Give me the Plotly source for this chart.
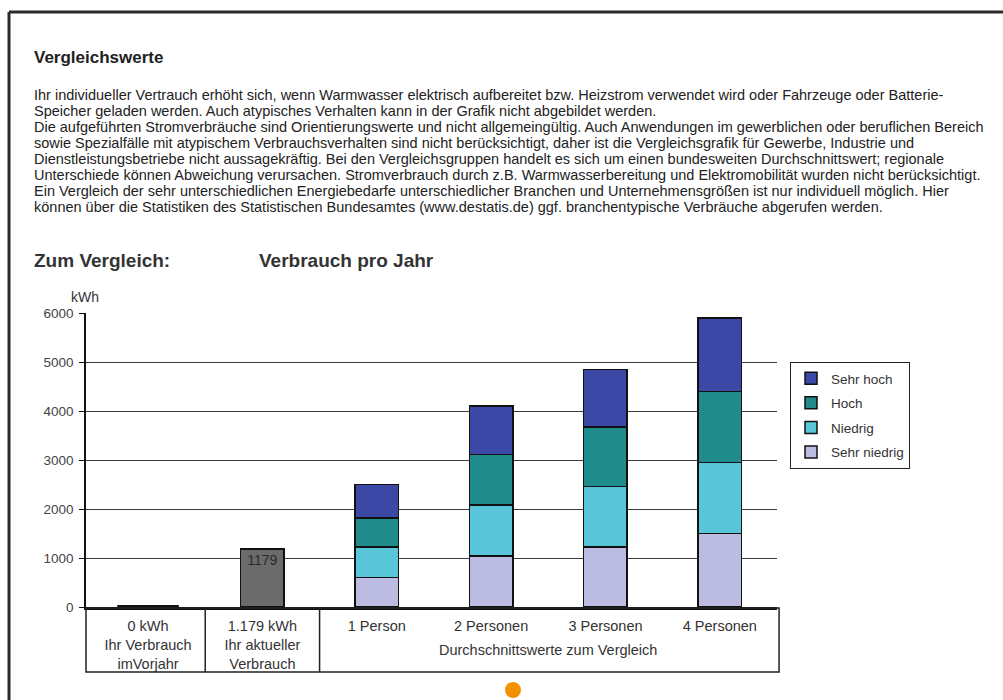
import plotly.graph_objects as go

# ---------------- data ----------------
categories = ["0 kWh<br>Ihr Verbrauch<br>imVorjahr",
              "1.179 kWh<br>Ihr aktueller<br>Verbrauch",
              "1 Person", "2 Personen", "3 Personen", "4 Personen"]
own_categories = categories[:2]
own_values = [0, 1179]
own_labels = ["", "1179"]
group_categories = categories[2:]
sehr_niedrig = [600, 1040, 1220, 1500]
niedrig = [620, 1040, 1240, 1450]
hoch = [600, 1030, 1210, 1450]
sehr_hoch = [680, 990, 1180, 1500]
y_ticks = [0, 1000, 2000, 3000, 4000, 5000, 6000]

series = [("Sehr niedrig", sehr_niedrig, "#bcbce2", 4),
          ("Niedrig", niedrig, "#58c6d8", 3),
          ("Hoch", hoch, "#1f8b8b", 2),
          ("Sehr hoch", sehr_hoch, "#3b48a6", 1)]

header = "Vergleichswerte"
paragraph = [
    "Ihr individueller Vertrauch erhöht sich, wenn Warmwasser elektrisch aufbereitet bzw. Heizstrom verwendet wird oder Fahrzeuge oder Batterie-",
    "Speicher geladen werden. Auch atypisches Verhalten kann in der Grafik nicht abgebildet werden.",
    "Die aufgeführten Stromverbräuche sind Orientierungswerte und nicht allgemeingültig. Auch Anwendungen im gewerblichen oder beruflichen Bereich",
    "sowie Spezialfälle mit atypischem Verbrauchsverhalten sind nicht berücksichtigt, daher ist die Vergleichsgrafik für Gewerbe, Industrie und",
    "Dienstleistungsbetriebe nicht aussagekräftig. Bei den Vergleichsgruppen handelt es sich um einen bundesweiten Durchschnittswert; regionale",
    "Unterschiede können Abweichung verursachen. Stromverbrauch durch z.B. Warmwasserbereitung und Elektromobilität wurden nicht berücksichtigt.",
    "Ein Vergleich der sehr unterschiedlichen Energiebedarfe unterschiedlicher Branchen und Unternehmensgrößen ist nur individuell möglich. Hier",
    "können über die Statistiken des Statistischen Bundesamtes (www.destatis.de) ggf. branchentypische Verbräuche abgerufen werden.",
]

W, H = 1003, 700
FONT = "Liberation Sans, Arial, sans-serif"

def px(xp):
    return xp / W

def py(yp):
    return 1 - yp / H

fig = go.Figure()

fig.add_trace(go.Bar(x=own_categories, y=own_values, text=own_labels,
                     textposition="inside", insidetextanchor="end",
                     textfont=dict(size=14, color="#2a2a2a", family=FONT),
                     marker=dict(color="#6b6b6b", line=dict(color="#111", width=1.5)),
                     width=0.38, showlegend=False, hoverinfo="skip"))

# zero-valued bar shown as a flat outline
zero_x = [c for c, v in zip(own_categories, own_values) if v == 0]
zero_y = [v for v in own_values if v == 0]
fig.add_trace(go.Scatter(x=zero_x, y=zero_y, mode="markers",
                         marker=dict(symbol="line-ew-open", size=44, color="#111",
                                     line=dict(color="#111", width=4)),
                         showlegend=False, hoverinfo="skip", cliponaxis=False))

for name, vals, col, rank in series:
    fig.add_trace(go.Bar(x=group_categories, y=vals, name=name, legendgroup=name,
                         legendrank=rank,
                         marker=dict(color=col, line=dict(color="#111", width=1.5)),
                         width=0.38))

ann = []
ann.append(dict(text="<b>" + header + "</b>", x=px(32), y=py(58), xref="paper", yref="paper",
                xanchor="left", yanchor="middle", showarrow=False,
                font=dict(size=17, color="#222", family=FONT)))
line_y = [95, 111, 127, 143, 159, 175, 191, 207]
for t, yy in zip(paragraph, line_y):
    ann.append(dict(text=t, x=px(32), y=py(yy), xref="paper", yref="paper",
                    xanchor="left", yanchor="middle", showarrow=False,
                    font=dict(size=14.5, color="#222", family=FONT)))
ann.append(dict(text="<b>Zum Vergleich:</b>", x=px(32), y=py(261), xref="paper", yref="paper",
                xanchor="left", yanchor="middle", showarrow=False,
                font=dict(size=19, color="#333", family=FONT)))
ann.append(dict(text="<b>Verbrauch pro Jahr</b>", x=px(257), y=py(261), xref="paper", yref="paper",
                xanchor="left", yanchor="middle", showarrow=False,
                font=dict(size=19, color="#333", family=FONT)))
ann.append(dict(text="kWh", x=px(69), y=py(297), xref="paper", yref="paper",
                xanchor="left", yanchor="middle", showarrow=False,
                font=dict(size=14, color="#333", family=FONT)))
ann.append(dict(text="Durchschnittswerte zum Vergleich", x=3.5, y=py(650),
                xref="x", yref="paper", xanchor="center", yanchor="middle", showarrow=False,
                font=dict(size=14.5, color="#333", family=FONT)))

shapes = [
    # page frame
    dict(type="line", xref="paper", yref="paper", x0=px(9), x1=1.0, y0=py(12), y1=py(12),
         line=dict(color="#2a2a2a", width=3)),
    dict(type="line", xref="paper", yref="paper", x0=px(9), x1=px(9), y0=py(12), y1=0,
         line=dict(color="#2a2a2a", width=3)),
    # table under the axis
    dict(type="rect", xref="x domain", yref="paper", x0=0, x1=1.003, y0=py(672), y1=py(608),
         line=dict(color="#222", width=1.5)),
    dict(type="line", xref="x", yref="paper", x0=0.5, x1=0.5, y0=py(672), y1=py(608),
         line=dict(color="#222", width=1.5)),
    dict(type="line", xref="x", yref="paper", x0=1.5, x1=1.5, y0=py(672), y1=py(608),
         line=dict(color="#222", width=1.5)),
    # orange dot
    dict(type="circle", xref="paper", yref="paper", x0=px(505), x1=px(521), y0=py(698), y1=py(682),
         fillcolor="#f39200", line=dict(width=0)),
]

fig.update_layout(
    width=W, height=H,
    margin=dict(l=0, r=0, t=0, b=0),
    paper_bgcolor="white", plot_bgcolor="white",
    barmode="stack",
    font=dict(family=FONT, color="#333"),
    annotations=ann, shapes=shapes,
    legend=dict(x=px(790), y=py(362), xanchor="left", yanchor="top",
                bordercolor="#222", borderwidth=1, bgcolor="white",
                traceorder="grouped", tracegroupgap=4,
                font=dict(size=13.5, color="#333", family=FONT),
                itemwidth=30),
    xaxis=dict(domain=[px(86), px(777)], type="category", categoryorder="array",
               categoryarray=categories, showline=True, linecolor="#111", linewidth=3,
               ticks="", showgrid=False, ticklabelstandoff=4, automargin=False,
               tickfont=dict(size=14.5, color="#333", family=FONT), fixedrange=True),
    yaxis=dict(domain=[py(607), py(313)], range=[0, 6000], tickvals=y_ticks,
               showline=True, linecolor="#111", linewidth=1.5,
               ticks="outside", ticklen=5, tickcolor="#111", ticklabelstandoff=3,
               showgrid=True, gridcolor="#3a3a3a", gridwidth=1.3, zeroline=False,
               tickfont=dict(size=13.5, color="#444", family=FONT), automargin=False),
)

fig.write_html("out.html", config={"displayModeBar": False},
               post_script="document.body.style.margin='0';document.body.style.overflow='hidden';")
